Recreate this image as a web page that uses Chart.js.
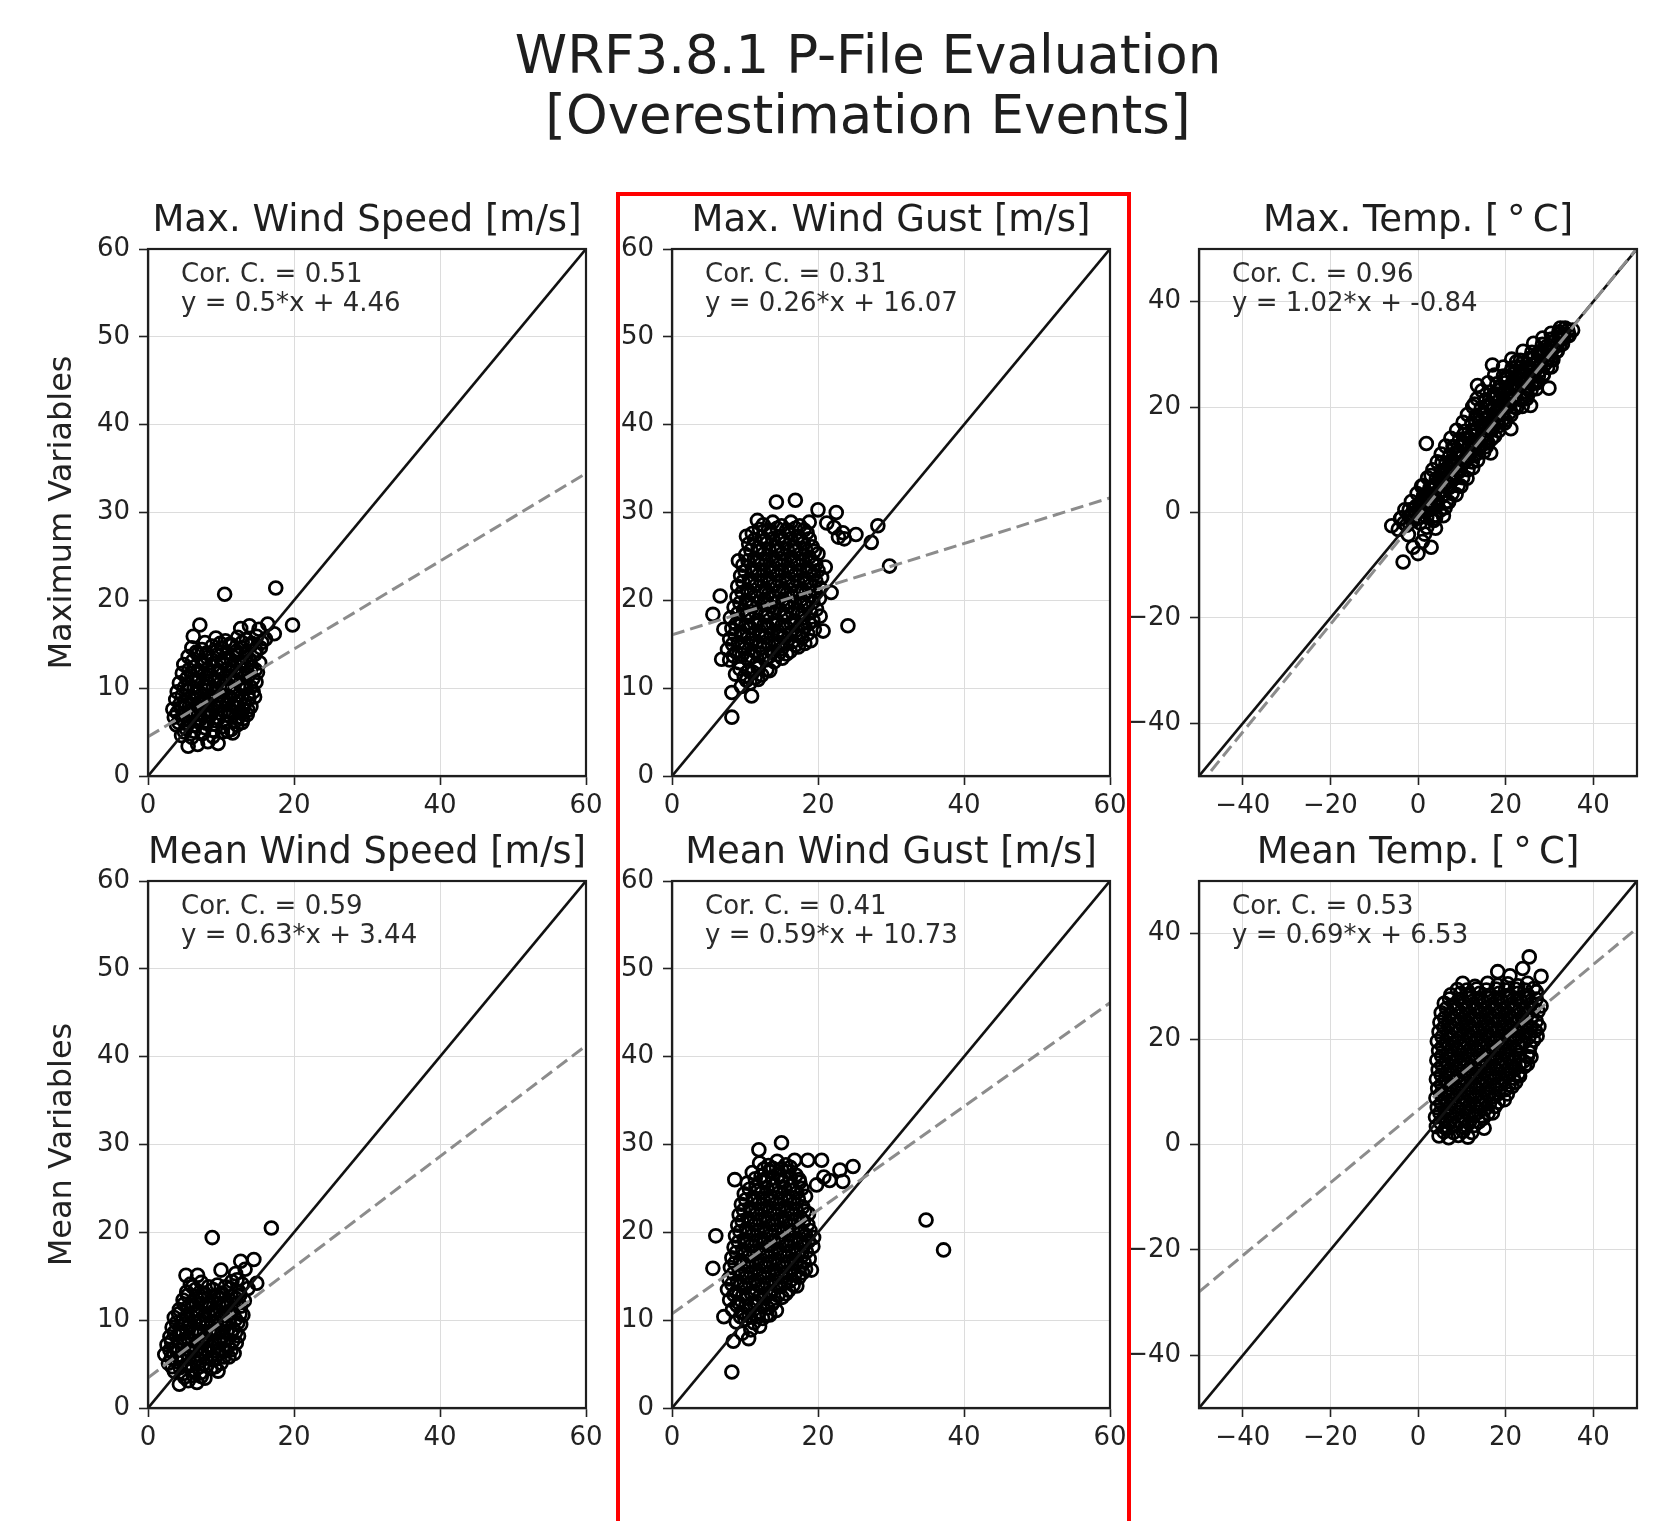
<!DOCTYPE html>
<html>
<head>
<meta charset="utf-8">
<title>WRF3.8.1 P-File Evaluation</title>
<script src="https://cdn.jsdelivr.net/npm/chart.js@4.4.1/dist/chart.umd.min.js"></script>
<style>
  body { margin: 0; background: #fff; width: 1671px; height: 1521px; position: relative; overflow: hidden; font-family: "DejaVu Sans", sans-serif; }
  #mainTitle { position: absolute; left: 268px; top: 25px; width: 1200px; text-align: center; font-size: 53px; line-height: 60px; color: #1e1e1e; }
  canvas { position: absolute; }
  #highlight { position: absolute; left: 616px; top: 192px; width: 507px; height: 1400px; border: 4px solid #ff0000; border-bottom: none; pointer-events: none; }
</style>
</head>
<body>
<div id="mainTitle">WRF3.8.1 P-File Evaluation<br>[Overestimation Events]</div>
<canvas id="c0" width="698" height="637"></canvas>
<canvas id="c1" width="698" height="637"></canvas>
<canvas id="c2" width="698" height="637"></canvas>
<canvas id="c3" width="698" height="637"></canvas>
<canvas id="c4" width="698" height="637"></canvas>
<canvas id="c5" width="698" height="637"></canvas>
<div id="highlight"></div>
<script>
// Titles and labels
const panelTitles = ["Max. Wind Speed [m/s]", "Max. Wind Gust [m/s]", "Max. Temp. [\u2009\u00b0\u2009C]",
                     "Mean Wind Speed [m/s]", "Mean Wind Gust [m/s]", "Mean Temp. [\u2009\u00b0\u2009C]"];
const rowTitles = ["Maximum Variables", "Mean Variables"];
const corrLabels = ["Cor. C. = 0.51", "Cor. C. = 0.31", "Cor. C. = 0.96", "Cor. C. = 0.59", "Cor. C. = 0.41", "Cor. C. = 0.53"];
const fitLabels = ["y = 0.5*x + 4.46", "y = 0.26*x + 16.07", "y = 1.02*x + -0.84",
                   "y = 0.63*x + 3.44", "y = 0.59*x + 10.73", "y = 0.69*x + 6.53"];

// Tick labels
const windTicksX = [0, 20, 40, 60];
const windTicksY = [0, 10, 20, 30, 40, 50, 60];
const tempTicks = [-40, -20, 0, 20, 40];

// 1:1 lines
const windIdentity = [[0, 0], [60, 60]];
const tempIdentity = [[-50, -50], [50, 50]];

// Regression lines (end points)
const maxWindSpeedFit = [[0, 4.46], [60, 34.46]];
const maxWindGustFit = [[0, 16.07], [60, 31.67]];
const maxTempFit = [[-50, -51.84], [50, 50.16]];
const meanWindSpeedFit = [[0, 3.44], [60, 41.24]];
const meanWindGustFit = [[0, 10.73], [60, 46.13]];
const meanTempFit = [[-50, -27.97], [50, 41.03]];

// Observed vs modelled points
const maxWindSpeedPts = [
  [5.5,3.4],[6.8,3.6],[8.2,3.9],[9.6,3.7],
  [4.6,4.6],[6.0,4.4],[7.4,4.8],[8.9,4.5],[10.9,5.1],[11.6,4.9],
  [3.9,5.8],[5.2,5.4],[6.5,5.7],[7.8,5.5],[9.1,5.9],[10.3,5.6],[12.2,5.8],[12.9,6.1],
  [3.6,6.7],[4.8,6.4],[6.1,6.8],[7.2,6.5],[8.5,6.9],[9.7,6.6],[11.0,6.9],[12.4,6.7],[13.6,7.0],
  [3.4,7.6],[4.5,7.8],[5.7,7.4],[6.9,7.9],[8.1,7.5],[9.3,7.8],[10.5,7.4],[11.8,7.9],[13.0,7.6],[14.1,7.9],
  [3.8,8.7],[5.1,8.4],[6.3,8.8],[7.6,8.5],[8.8,8.9],[10.1,8.6],[11.3,8.9],[12.6,8.5],[13.8,8.8],[14.6,9.0],
  [4.0,9.6],[5.4,9.8],[6.7,9.4],[8.0,9.7],[9.2,9.4],[10.5,9.8],[11.8,9.5],[13.1,9.9],[14.4,9.6],
  [4.3,10.6],[5.6,10.4],[6.9,10.8],[8.3,10.5],[9.6,10.9],[10.8,10.5],[12.1,10.8],[13.4,10.4],[14.8,10.7],
  [4.7,11.7],[6.0,11.4],[7.3,11.8],[8.6,11.5],[9.9,11.8],[11.2,11.4],[12.5,11.7],[13.8,11.5],[15.0,11.8],
  [4.9,12.7],[6.3,12.4],[7.6,12.8],[8.9,12.5],[10.3,12.9],[11.6,12.5],[12.9,12.8],[14.2,12.4],[15.3,12.9],
  [5.5,13.6],[6.8,13.9],[8.1,13.5],[9.5,13.8],[10.8,13.4],[12.1,13.8],[13.4,13.5],[14.7,13.9],
  [6.0,14.6],[7.4,14.4],[8.8,14.8],[10.2,14.5],[11.5,14.9],[12.8,14.6],[14.1,14.9],[15.4,14.6],
  [6.2,15.9],[9.3,15.7],[10.6,15.4],[12.3,15.8],[13.5,15.5],[14.9,15.9],[16.1,15.6],[17.3,16.2],
  [7.1,17.2],[12.7,16.8],[13.9,17.1],[15.2,16.7],[16.4,17.3],
  [10.5,20.7],[17.5,21.4],[19.8,17.2],
  [5.0,5.0],[6.3,5.1],[7.6,4.9],[8.9,5.2],[10.2,5.0],[11.4,5.3],
  [4.2,6.1],[5.5,6.0],[6.8,6.2],[8.0,6.0],[9.3,6.3],[10.6,6.1],[11.9,6.2],[13.0,6.5],
  [4.0,7.2],[5.2,7.0],[6.4,7.3],[7.6,7.1],[8.8,7.3],[10.0,7.1],[11.3,7.3],[12.6,7.2],[13.7,7.5],
  [4.4,8.2],[5.7,8.0],[6.9,8.3],[8.2,8.1],[9.4,8.3],[10.7,8.1],[12.0,8.3],[13.2,8.1],
  [4.7,9.2],[6.0,9.0],[7.3,9.2],[8.6,9.1],[9.9,9.2],[11.1,9.0],[12.4,9.2],[13.7,9.3],
  [5.0,10.1],[6.3,10.0],[7.6,10.2],[8.9,10.0],[10.2,10.2],[11.5,10.0],[12.8,10.2],[14.1,10.1],
  [5.3,11.1],[6.6,11.0],[7.9,11.2],[9.2,11.0],[10.5,11.2],[11.8,11.0],[13.1,11.2],[14.4,11.1],
  [5.6,12.1],[6.9,12.0],[8.2,12.2],[9.6,12.0],[10.9,12.2],[12.2,12.0],[13.5,12.2],[14.7,12.1],
  [6.1,13.1],[7.4,13.0],[8.8,13.2],[10.1,13.0],[11.4,13.2],[12.7,13.0],[14.0,13.2],
  [6.6,14.1],[8.0,14.0],[9.4,14.2],[10.8,14.0],[12.1,14.2],[13.4,14.0],[14.8,14.3],
  [7.8,15.2],[9.9,15.1],[11.2,15.0],[12.9,15.2],[14.2,15.1],[15.6,15.2]
];
const maxWindGustPts = [
  [9.5,10.2],[10.7,10.6],[11.8,11.0],
  [8.7,11.6],[9.9,11.3],[11.1,11.8],[12.3,11.5],[13.4,12.0],
  [7.9,13.2],[9.2,12.9],[10.4,13.3],[11.6,12.8],[12.8,13.2],[14.0,13.0],[15.1,13.4],
  [7.6,14.4],[8.8,14.1],[10.0,14.5],[11.3,14.2],[12.5,14.6],[13.7,14.1],[15.0,14.5],[16.2,14.2],[17.3,14.7],
  [7.9,15.6],[9.1,15.2],[10.4,15.7],[11.6,15.3],[12.8,15.8],[14.1,15.4],[15.3,15.8],[16.5,15.3],[17.8,15.7],[19.0,15.4],
  [8.2,16.8],[9.5,16.4],[10.7,16.9],[12.0,16.5],[13.2,16.9],[14.5,16.5],[15.7,16.9],[17.0,16.6],[18.2,17.0],[19.5,16.7],
  [8.0,18.0],[9.3,17.6],[10.5,18.1],[11.8,17.7],[13.0,18.1],[14.3,17.7],[15.5,18.1],[16.8,17.6],[18.0,18.0],[19.3,17.7],[20.3,18.2],
  [8.5,19.2],[9.8,18.9],[11.0,19.3],[12.3,18.9],[13.5,19.3],[14.8,18.9],[16.0,19.3],[17.3,18.9],[18.5,19.3],[19.8,19.0],
  [8.9,20.4],[10.2,20.0],[11.4,20.5],[12.7,20.1],[13.9,20.5],[15.2,20.1],[16.4,20.5],[17.7,20.1],[18.9,20.5],[20.2,20.2],
  [9.0,21.6],[10.3,21.2],[11.5,21.7],[12.8,21.3],[14.0,21.7],[15.3,21.3],[16.5,21.7],[17.8,21.3],[19.0,21.7],[20.3,21.4],
  [9.4,22.8],[10.6,22.4],[11.9,22.9],[13.1,22.5],[14.4,22.9],[15.6,22.5],[16.9,22.9],[18.1,22.5],[19.4,22.9],[20.5,22.6],
  [9.7,24.0],[11.0,23.6],[12.2,24.1],[13.5,23.7],[14.7,24.1],[16.0,23.7],[17.2,24.1],[18.5,23.7],[19.7,24.1],[21.0,23.8],
  [10.1,25.2],[11.3,24.8],[12.6,25.3],[13.8,24.9],[15.1,25.3],[16.3,24.9],[17.6,25.3],[18.8,24.9],[20.0,25.3],
  [10.5,26.4],[11.8,26.0],[13.0,26.5],[14.3,26.1],[15.5,26.5],[16.8,26.1],[18.0,26.5],[19.2,26.1],
  [11.0,27.6],[12.3,27.2],[13.5,27.7],[14.8,27.3],[16.0,27.7],[17.3,27.3],[18.5,27.7],[22.8,27.2],[23.6,27.0],
  [12.5,28.6],[13.8,28.9],[15.0,28.5],[16.3,28.9],[17.5,28.5],[18.8,28.9],[21.2,28.8],[22.2,28.3],
  [14.3,31.2],[16.9,31.4],[20.0,30.3],[22.5,30.0],[25.2,27.5],[28.2,28.5],[27.3,26.6],[29.8,23.9],
  [24.1,17.1],[11.7,29.1],[10.2,27.3],[9.1,24.5],[6.6,20.5],[5.6,18.4],[7.1,16.7],[6.8,13.3],
  [8.2,9.5],[8.2,6.7],[10.9,9.1],[20.7,16.5],[21.8,20.9],[23.4,27.7],
  [10.2,10.9],[11.4,11.2],
  [9.3,12.2],[10.5,12.0],[11.8,12.3],[13.0,12.1],
  [8.4,13.7],[9.6,13.8],[10.9,13.6],[12.1,13.9],[13.3,13.6],[14.5,13.8],[15.7,13.9],
  [8.3,15.0],[9.6,14.8],[10.8,15.1],[12.0,14.9],[13.2,15.1],[14.5,14.9],[15.7,15.1],[16.9,14.9],[18.2,15.1],
  [8.6,16.1],[9.8,16.0],[11.1,16.2],[12.3,16.0],[13.6,16.2],[14.8,16.0],[16.1,16.2],[17.3,16.0],[18.6,16.2],
  [8.8,17.3],[10.1,17.2],[11.3,17.4],[12.6,17.2],[13.8,17.4],[15.1,17.2],[16.3,17.4],[17.6,17.2],[18.8,17.4],
  [9.0,18.5],[10.3,18.4],[11.5,18.6],[12.8,18.4],[14.0,18.6],[15.3,18.4],[16.5,18.6],[17.8,18.4],[19.0,18.6],
  [9.3,19.7],[10.6,19.6],[11.8,19.8],[13.1,19.6],[14.3,19.8],[15.6,19.6],[16.8,19.8],[18.1,19.6],[19.3,19.8],
  [9.6,20.9],[10.8,20.8],[12.1,21.0],[13.3,20.8],[14.6,21.0],[15.8,20.8],[17.1,21.0],[18.3,20.8],[19.6,21.0],
  [9.7,22.1],[10.9,22.0],[12.2,22.2],[13.4,22.0],[14.7,22.2],[15.9,22.0],[17.2,22.2],[18.4,22.0],[19.7,22.2],
  [10.0,23.3],[11.3,23.2],[12.5,23.4],[13.8,23.2],[15.0,23.4],[16.3,23.2],[17.5,23.4],[18.8,23.2],[20.0,23.4],
  [10.4,24.5],[11.7,24.4],[12.9,24.6],[14.2,24.4],[15.4,24.6],[16.7,24.4],[17.9,24.6],[19.2,24.4],
  [10.8,25.7],[12.0,25.6],[13.3,25.8],[14.5,25.6],[15.8,25.8],[17.0,25.6],[18.3,25.8],[19.5,25.6],
  [11.3,26.9],[12.6,26.8],[13.8,27.0],[15.1,26.8],[16.3,27.0],[17.6,26.8],[18.8,27.0],
  [12.0,28.1],[13.2,28.0],[14.4,28.2],[15.7,28.0],[16.9,28.2],[18.1,28.0]
];
const maxTempPts = [
  [-4.5,-3.2],[-3.8,-1.0],[-2.6,-2.4],[-2.0,0.5],[-1.2,-1.6],[-0.4,1.2],[0.3,-0.8],[1.0,2.4],[1.6,0.2],
  [2.3,3.5],[2.9,1.3],[3.6,-1.5],[3.8,4.6],[4.4,2.1],[5.0,5.9],[5.6,3.2],[6.2,0.9],[6.5,7.6],[7.1,4.8],
  [7.6,9.3],[8.2,6.4],[8.7,3.4],[9.0,11.0],[9.5,8.0],[10.1,12.6],[10.6,9.6],[11.2,6.5],[11.5,14.0],
  [12.0,11.2],[12.6,15.6],[13.1,12.8],[13.6,9.9],[14.0,17.2],[14.5,14.3],[15.0,18.9],[15.5,16.0],
  [16.0,13.2],[16.3,20.5],[16.9,17.6],[17.4,22.3],[17.9,19.2],[18.4,16.4],[18.8,23.8],[19.3,20.9],
  [19.9,25.5],[20.4,22.5],[20.9,19.0],[21.3,26.8],[21.8,24.0],[22.4,27.5],[22.9,25.4],[23.4,21.8],
  [23.9,28.4],[24.4,26.0],[25.0,23.6],[25.6,29.1],[26.2,26.8],[26.8,24.8],[27.4,30.2],[28.0,28.0],
  [28.6,26.1],[29.2,31.4],[29.8,29.3],[30.4,27.6],[31.0,32.5],[31.6,30.6],[32.2,33.8],[33.0,32.0],
  [33.6,35.0],[34.5,33.6],[35.3,34.6],
  [0.8,5.0],[3.0,7.0],[5.5,9.5],[8.0,12.5],[10.5,14.8],[13.0,17.5],[15.5,20.0],[18.0,22.5],[20.5,25.5],
  [22.5,28.6],[4.0,-0.5],[7.0,2.0],[9.8,5.0],[12.5,8.5],[15.0,11.5],[17.5,14.5],[20.0,17.5],[22.0,20.0],
  [25.0,22.2],[27.0,23.5],
  [1.9,13.1],[-3.4,-9.4],[0.0,-7.8],[-6.0,-2.5],[17.0,28.0],[29.9,23.6],[12.9,20.6],[13.6,24.1],
  [21.2,15.9],[25.7,20.3],[32.5,35.0],[16.6,11.3],[-1.1,-6.6],[1.5,-4.1],[3.0,-6.6],
  [-3.2,-2.0],[-1.8,-0.6],[-0.6,0.0],[0.5,1.0],[1.3,3.2],[2.0,1.8],[2.7,4.6],[3.3,2.8],[4.0,5.4],
  [4.7,3.8],[5.3,7.0],[5.9,5.0],[6.6,8.4],[7.3,6.1],[7.9,9.9],[8.5,7.5],[9.2,11.6],[9.8,9.0],
  [10.4,13.2],[11.0,10.4],[11.8,12.6],[12.3,14.6],[12.9,10.8],[13.5,15.8],[14.1,13.0],[14.8,16.6],
  [15.4,14.6],[16.0,18.2],[16.7,15.8],[17.3,19.8],[17.9,17.2],[18.5,21.2],[19.1,18.6],[19.7,22.8],
  [20.3,20.4],[20.9,24.0],[21.5,21.6],[22.1,25.6],[22.7,23.2],[23.3,26.8],[23.9,24.4],[24.6,27.4],
  [25.2,25.4],[25.9,28.0],[26.5,26.0],[27.2,28.8],[27.8,26.9],[28.4,30.3],[29.0,28.2],[29.6,30.6],
  [30.3,29.0],[31.0,31.2],[31.8,32.0],[32.6,33.0],[33.4,33.8],[34.2,34.6],
  [0.5,-2.0],[1.0,-5.5],[2.0,-2.8],[-2.2,-4.2],[4.0,-3.0],
  [-4.0,-1.2],[-2.0,-0.8],[0.0,-1.1],[2.0,-0.9],[4.0,-1.1],[5.8,-0.6],
  [-1.5,2.1],[0.5,1.8],[2.5,2.2],[4.5,1.9],[6.5,2.1],
  [1.2,5.1],[3.2,4.9],[5.2,5.2],[7.2,4.8],[9.2,5.1],
  [3.4,8.1],[5.4,7.9],[7.4,8.2],[9.4,7.8],[11.4,8.1],
  [5.3,11.1],[7.3,10.9],[9.3,11.2],[11.3,10.8],[13.3,11.1],
  [7.5,14.1],[9.5,13.9],[11.5,14.2],[13.5,13.8],[15.5,14.1],[16.8,14.0],
  [10.3,17.1],[12.3,16.9],[14.3,17.2],[16.3,16.8],[18.3,17.1],[19.8,17.0],
  [12.5,20.1],[14.5,19.9],[16.5,20.2],[18.5,19.8],[20.5,20.1],[22.5,19.9],[23.8,20.1],
  [14.6,23.1],[16.6,22.9],[18.6,23.2],[20.6,22.8],[22.6,23.1],[24.6,22.9],[25.8,23.2],
  [17.5,26.1],[19.5,25.9],[21.5,26.2],[23.5,25.8],[25.5,26.1],[27.5,25.9],[28.6,26.2],
  [21.4,29.1],[23.4,28.9],[25.4,29.2],[27.4,28.8],[29.4,29.1],[30.8,29.0],
  [26.4,32.1],[28.4,31.9],[30.4,32.2],[32.4,31.8],
  [30.4,34.0],[32.2,34.3],[34.4,33.8],
  [-3.0,0.5],[-1.0,0.6],[1.0,0.4],[3.0,0.6],[5.0,0.4],
  [-0.2,3.6],[1.8,3.4],[3.8,3.6],[5.8,3.4],[7.8,3.6],
  [2.2,6.6],[4.2,6.4],[6.2,6.6],[8.2,6.4],[10.2,6.6],
  [4.4,9.6],[6.4,9.4],[8.4,9.6],[10.4,9.4],[12.4,9.6],
  [6.3,12.6],[8.3,12.4],[10.3,12.6],[12.3,12.4],[14.3,12.6],[15.6,12.5],
  [8.8,15.6],[10.8,15.4],[12.8,15.6],[14.8,15.4],[16.8,15.6],[18.4,15.5],
  [11.3,18.6],[13.3,18.4],[15.3,18.6],[17.3,18.4],[19.3,18.6],[21.2,18.5],
  [13.5,21.6],[15.5,21.4],[17.5,21.6],[19.5,21.4],[21.5,21.6],[23.5,21.4],[24.8,21.6],
  [16.0,24.6],[18.0,24.4],[20.0,24.6],[22.0,24.4],[24.0,24.6],[26.0,24.4],[27.2,24.6],
  [19.5,27.6],[21.5,27.4],[23.5,27.6],[25.5,27.4],[27.5,27.6],[29.6,27.5],
  [24.0,30.6],[26.0,30.4],[28.0,30.6],[30.0,30.4],[31.8,30.6],
  [28.5,33.1],[30.5,32.9],[33.2,33.0]
];
const meanWindSpeedPts = [
  [4.3,2.7],[5.5,3.1],[6.7,2.9],[7.8,3.4],
  [3.6,4.2],[4.8,3.9],[6.0,4.3],[7.2,4.0],[8.6,4.5],[9.6,4.2],
  [2.8,5.1],[4.0,5.3],[5.2,4.9],[6.4,5.4],[7.6,5.0],[8.8,5.5],[10.0,5.1],[11.1,5.8],
  [2.3,6.1],[3.5,6.3],[4.7,5.9],[5.9,6.4],[7.1,6.0],[8.3,6.5],[9.5,6.1],[10.7,6.5],[11.8,6.2],
  [2.6,7.2],[3.8,6.9],[5.0,7.3],[6.2,6.9],[7.4,7.4],[8.6,7.0],[9.8,7.4],[11.0,7.0],[12.1,7.4],
  [3.0,8.1],[4.2,8.4],[5.4,8.0],[6.6,8.4],[7.8,8.0],[9.0,8.5],[10.2,8.1],[11.4,8.5],[12.4,8.2],
  [3.3,9.2],[4.5,8.9],[5.7,9.3],[6.9,8.9],[8.1,9.4],[9.3,9.0],[10.5,9.4],[11.7,9.0],[12.7,9.5],
  [3.6,10.3],[4.8,10.0],[6.0,10.4],[7.2,10.0],[8.4,10.5],[9.6,10.1],[10.8,10.5],[12.0,10.1],[13.0,10.6],
  [4.3,11.2],[5.5,11.5],[6.7,11.1],[7.9,11.5],[9.1,11.1],[10.3,11.6],[11.5,11.2],[12.7,11.6],
  [4.8,12.3],[6.0,12.0],[7.2,12.4],[8.4,12.0],[9.6,12.5],[10.8,12.1],[12.0,12.5],[13.2,12.2],
  [5.3,13.2],[6.5,13.5],[7.7,13.1],[8.9,13.5],[10.1,13.1],[11.3,13.6],[12.5,13.2],[13.7,13.6],
  [5.8,14.1],[7.3,14.3],[9.5,14.0],[11.5,14.4],[12.9,14.1],[14.9,14.2],
  [5.2,15.1],[6.8,15.1],[10.0,15.7],[12.0,15.3],[13.3,15.8],
  [12.7,16.7],[14.5,16.9],
  [8.8,19.4],[16.9,20.5],
  [5.0,3.5],[6.2,3.7],[7.3,3.6],
  [3.3,4.7],[4.4,4.6],[5.6,4.8],[6.8,4.6],[8.0,4.8],[9.2,4.7],
  [3.2,5.7],[4.4,5.6],[5.6,5.8],[6.8,5.6],[8.0,5.8],[9.2,5.6],[10.4,5.8],
  [3.0,6.6],[4.2,6.6],[5.4,6.7],[6.6,6.5],[7.8,6.7],[9.0,6.5],[10.2,6.7],[11.4,6.6],
  [3.2,7.6],[4.4,7.5],[5.6,7.7],[6.8,7.5],[8.0,7.7],[9.2,7.5],[10.4,7.7],[11.6,7.6],
  [3.6,8.6],[4.8,8.5],[6.0,8.7],[7.2,8.5],[8.4,8.7],[9.6,8.5],[10.8,8.7],[12.0,8.6],
  [3.9,9.7],[5.1,9.6],[6.3,9.8],[7.5,9.6],[8.7,9.8],[9.9,9.6],[11.1,9.8],[12.3,9.7],
  [4.2,10.7],[5.4,10.6],[6.6,10.8],[7.8,10.6],[9.0,10.8],[10.2,10.6],[11.4,10.8],[12.6,10.7],
  [4.9,11.8],[6.1,11.7],[7.3,11.9],[8.5,11.7],[9.7,11.9],[10.9,11.7],[12.1,11.9],
  [5.4,12.8],[6.6,12.7],[7.8,12.9],[9.0,12.7],[10.2,12.9],[11.4,12.7],[12.6,12.9],
  [6.1,13.8],[8.3,13.8],[10.6,13.8],[12.2,14.6]
];
const meanWindGustPts = [
  [9.6,8.5],[10.8,8.9],[12.0,9.3],
  [8.8,9.8],[10.0,10.1],[11.2,9.7],[12.4,10.2],[13.4,10.6],
  [8.3,11.2],[9.5,10.9],[10.7,11.3],[11.9,10.9],[13.1,11.4],[14.3,11.1],
  [7.9,12.3],[9.1,12.0],[10.3,12.5],[11.5,12.1],[12.7,12.5],[13.9,12.1],[15.1,12.6],
  [7.6,13.5],[8.8,13.2],[10.0,13.7],[11.2,13.3],[12.4,13.7],[13.6,13.3],[14.8,13.8],[16.0,13.4],[17.1,13.9],
  [7.8,14.7],[9.0,14.4],[10.2,14.9],[11.4,14.5],[12.6,14.9],[13.8,14.5],[15.0,14.9],[16.2,14.5],[17.4,14.9],[18.3,15.8],
  [8.0,16.0],[9.2,15.6],[10.4,16.1],[11.6,15.7],[12.8,16.1],[14.0,15.7],[15.2,16.1],[16.4,15.7],[17.6,16.1],
  [8.2,17.1],[9.4,16.8],[10.6,17.3],[11.8,16.9],[13.0,17.3],[14.2,16.9],[15.4,17.3],[16.6,16.9],[17.8,17.3],[18.8,17.0],
  [8.5,18.3],[9.7,18.0],[10.9,18.5],[12.1,18.1],[13.3,18.5],[14.5,18.1],[15.7,18.5],[16.9,18.1],[18.1,18.5],
  [8.7,19.6],[9.9,19.2],[11.1,19.7],[12.3,19.3],[13.5,19.7],[14.7,19.3],[15.9,19.7],[17.1,19.3],[18.3,19.7],[19.4,19.4],
  [9.0,20.8],[10.2,20.4],[11.4,20.9],[12.6,20.5],[13.8,20.9],[15.0,20.5],[16.2,20.9],[17.4,20.5],[18.6,20.9],
  [9.2,22.0],[10.4,21.6],[11.6,22.1],[12.8,21.7],[14.0,22.1],[15.2,21.7],[16.4,22.1],[17.6,21.7],[18.7,22.1],
  [9.5,23.2],[10.7,22.8],[11.9,23.3],[13.1,22.9],[14.3,23.3],[15.5,22.9],[16.7,23.3],[17.9,22.9],
  [9.9,24.4],[11.1,24.0],[12.3,24.5],[13.5,24.1],[14.7,24.5],[15.9,24.1],[17.1,24.5],[18.3,24.1],
  [10.3,25.6],[11.5,25.2],[12.7,25.7],[13.9,25.3],[15.1,25.7],[16.3,25.3],[17.5,25.7],[19.8,25.4],
  [11.0,26.8],[12.2,26.4],[13.4,26.9],[14.6,26.5],[15.8,26.9],[17.0,26.5],[20.8,26.3],[21.6,25.9],
  [12.0,27.9],[13.2,27.6],[14.4,28.1],[15.6,27.7],[16.8,28.2],
  [34.8,21.4],[37.2,18.0],[8.2,4.1],[6.0,19.6],[5.6,15.9],[8.6,26.0],[11.9,29.4],[15.0,30.2],
  [24.8,27.5],[23.0,27.1],[23.4,25.8],[20.5,28.2],[18.6,28.2],[7.1,10.4],[8.4,7.6],[10.5,7.9],
  [19.1,15.7],[19.3,18.4],
  [9.4,10.4],[10.6,10.5],[11.8,10.4],[13.0,10.6],
  [8.9,11.7],[10.1,11.6],[11.3,11.8],[12.5,11.6],[13.7,11.8],
  [8.5,12.9],[9.7,12.8],[10.9,13.0],[12.1,12.8],[13.3,13.0],[14.5,12.8],[15.6,13.0],
  [8.2,14.1],[9.4,14.0],[10.6,14.2],[11.8,14.0],[13.0,14.2],[14.2,14.0],[15.4,14.2],[16.6,14.0],
  [8.4,15.3],[9.6,15.2],[10.8,15.4],[12.0,15.2],[13.2,15.4],[14.4,15.2],[15.6,15.4],[16.8,15.2],[17.9,15.4],
  [8.6,16.5],[9.8,16.4],[11.0,16.6],[12.2,16.4],[13.4,16.6],[14.6,16.4],[15.8,16.6],[17.0,16.4],[18.1,16.6],
  [8.8,17.7],[10.0,17.6],[11.2,17.8],[12.4,17.6],[13.6,17.8],[14.8,17.6],[16.0,17.8],[17.2,17.6],[18.4,17.8],
  [9.1,18.9],[10.3,18.8],[11.5,19.0],[12.7,18.8],[13.9,19.0],[15.1,18.8],[16.3,19.0],[17.5,18.8],[18.7,19.0],
  [9.3,20.1],[10.5,20.0],[11.7,20.2],[12.9,20.0],[14.1,20.2],[15.3,20.0],[16.5,20.2],[17.7,20.0],[18.9,20.2],
  [9.6,21.3],[10.8,21.2],[12.0,21.4],[13.2,21.2],[14.4,21.4],[15.6,21.2],[16.8,21.4],[18.0,21.2],
  [9.8,22.5],[11.0,22.4],[12.2,22.6],[13.4,22.4],[14.6,22.6],[15.8,22.4],[17.0,22.6],[18.2,22.4],
  [10.1,23.7],[11.3,23.6],[12.5,23.8],[13.7,23.6],[14.9,23.8],[16.1,23.6],[17.3,23.8],
  [10.6,24.9],[11.8,24.8],[13.0,25.0],[14.2,24.8],[15.4,25.0],[16.6,24.8],[17.8,25.0],
  [11.4,26.1],[12.6,26.0],[13.8,26.2],[15.0,26.0],[16.2,26.2],[17.4,26.0],
  [12.6,27.2],[13.8,27.3],[15.0,27.2],[16.2,27.4]
];
const meanTempPts = [
  [4.8,1.6],[7.0,1.3],[9.2,1.7],[11.4,1.4],
  [4.2,3.4],[6.3,3.1],[8.5,3.5],[10.7,3.2],[12.9,3.6],[15.1,3.1],
  [4.0,5.2],[6.1,4.9],[8.3,5.3],[10.5,5.0],[12.7,5.4],[14.9,5.0],[17.0,6.0],
  [4.4,7.0],[6.6,6.7],[8.8,7.1],[11.0,6.8],[13.2,7.2],[15.4,6.8],[17.6,7.2],
  [4.1,8.8],[6.3,8.5],[8.5,8.9],[10.7,8.6],[12.9,9.0],[15.1,8.6],[17.3,9.0],[19.7,8.5],
  [4.5,10.6],[6.7,10.3],[8.9,10.7],[11.1,10.4],[13.3,10.8],[15.5,10.4],[17.7,10.8],[19.9,10.4],[21.5,11.0],
  [4.2,12.4],[6.4,12.1],[8.6,12.5],[10.8,12.2],[13.0,12.6],[15.2,12.2],[17.4,12.6],[19.6,12.2],[21.8,12.6],[23.2,13.0],
  [4.6,14.2],[6.8,13.9],[9.0,14.3],[11.2,14.0],[13.4,14.4],[15.6,14.0],[17.8,14.4],[20.0,14.0],[22.2,14.4],[24.3,14.8],
  [4.3,16.0],[6.5,15.7],[8.7,16.1],[10.9,15.8],[13.1,16.2],[15.3,15.8],[17.5,16.2],[19.7,15.8],[21.9,16.2],[24.1,15.8],[25.8,16.6],
  [4.7,17.8],[6.9,17.5],[9.1,17.9],[11.3,17.6],[13.5,18.0],[15.7,17.6],[17.9,18.0],[20.1,17.6],[22.3,18.0],[25.4,17.5],
  [4.4,19.6],[6.6,19.3],[8.8,19.7],[11.0,19.4],[13.2,19.8],[15.4,19.4],[17.6,19.8],[19.8,19.4],[22.0,19.8],[24.2,19.4],[26.4,19.8],
  [4.8,21.4],[7.0,21.1],[9.2,21.5],[11.4,21.2],[13.6,21.6],[15.8,21.2],[18.0,21.6],[20.2,21.2],[22.4,21.6],[24.6,21.2],[26.8,21.6],
  [5.0,23.2],[7.2,22.9],[9.4,23.3],[11.6,23.0],[13.8,23.4],[16.0,23.0],[18.2,23.4],[20.4,23.0],[22.6,23.4],[24.8,23.0],[27.0,23.4],
  [5.3,25.0],[7.5,24.7],[9.7,25.1],[11.9,24.8],[14.1,25.2],[16.3,24.8],[18.5,25.2],[20.7,24.8],[22.9,25.2],[25.1,24.8],[27.4,25.3],
  [6.0,26.8],[8.2,26.5],[10.4,26.9],[12.6,26.6],[14.8,27.0],[17.0,26.6],[19.2,27.0],[21.4,26.6],[23.6,27.0],[25.8,26.6],[28.1,26.3],
  [7.5,28.4],[9.7,28.7],[11.9,28.3],[14.1,28.7],[16.3,28.3],[18.5,28.7],[20.7,28.3],[22.9,28.7],[25.1,28.3],[27.0,29.0],
  [10.2,30.6],[13.0,30.0],[15.9,30.6],[18.2,30.2],[20.5,30.5],[22.8,30.1],[25.0,30.6],[28.1,31.9],
  [18.2,32.8],[23.9,33.4],[25.4,35.6],[21.0,32.0],
  [5.9,2.4],[8.1,2.3],[10.3,2.5],[12.3,2.3],
  [5.1,4.2],[7.3,4.1],[9.5,4.3],[11.7,4.1],[13.9,4.3],
  [5.0,6.0],[7.2,5.9],[9.4,6.1],[11.6,5.9],[13.8,6.1],[16.0,5.9],
  [5.3,7.8],[7.5,7.7],[9.7,7.9],[11.9,7.7],[14.1,7.9],[16.3,7.7],[18.3,8.0],
  [5.2,9.6],[7.4,9.5],[9.6,9.7],[11.8,9.5],[14.0,9.7],[16.2,9.5],[18.4,9.7],[20.4,9.6],
  [5.4,11.4],[7.6,11.3],[9.8,11.5],[12.0,11.3],[14.2,11.5],[16.4,11.3],[18.6,11.5],[20.8,11.3],[22.3,11.8],
  [5.3,13.2],[7.5,13.1],[9.7,13.3],[11.9,13.1],[14.1,13.3],[16.3,13.1],[18.5,13.3],[20.7,13.1],[22.9,13.4],
  [5.5,15.0],[7.7,14.9],[9.9,15.1],[12.1,14.9],[14.3,15.1],[16.5,14.9],[18.7,15.1],[20.9,14.9],[23.1,15.1],[25.0,15.3],
  [5.4,16.8],[7.6,16.7],[9.8,16.9],[12.0,16.7],[14.2,16.9],[16.4,16.7],[18.6,16.9],[20.8,16.7],[23.0,16.9],[25.0,16.7],
  [5.6,18.6],[7.8,18.5],[10.0,18.7],[12.2,18.5],[14.4,18.7],[16.6,18.5],[18.8,18.7],[21.0,18.5],[23.2,18.7],[25.6,18.6],
  [5.5,20.4],[7.7,20.3],[9.9,20.5],[12.1,20.3],[14.3,20.5],[16.5,20.3],[18.7,20.5],[20.9,20.3],[23.1,20.5],[25.3,20.3],[27.2,20.6],
  [5.9,22.2],[8.1,22.1],[10.3,22.3],[12.5,22.1],[14.7,22.3],[16.9,22.1],[19.1,22.3],[21.3,22.1],[23.5,22.3],[25.7,22.1],[27.6,22.4],
  [6.1,24.0],[8.3,23.9],[10.5,24.1],[12.7,23.9],[14.9,24.1],[17.1,23.9],[19.3,24.1],[21.5,23.9],[23.7,24.1],[25.9,23.9],
  [6.5,25.8],[8.7,25.7],[10.9,25.9],[13.1,25.7],[15.3,25.9],[17.5,25.7],[19.7,25.9],[21.9,25.7],[24.1,25.9],[26.4,25.8],
  [7.2,27.6],[9.4,27.5],[11.6,27.7],[13.8,27.5],[16.0,27.7],[18.2,27.5],[20.4,27.7],[22.6,27.5],[24.8,27.7],[27.0,27.6],
  [9.0,29.4],[11.2,29.3],[13.4,29.5],[15.6,29.3],[17.8,29.5],[20.0,29.3],[22.2,29.5],[24.4,29.3],[26.4,29.6]
];

// Layout of the 2x3 grid (page pixels)
const plotLefts = [148, 672, 1199];
const plotTops = [249, 881];
const axisSide = 130;   // room left of each plot (and mirrored on the right)
const titleBlock = 50;  // subplot title height above the plot

const panels = [
  { pts: maxWindSpeedPts, fit: maxWindSpeedFit, temp: false },
  { pts: maxWindGustPts, fit: maxWindGustFit, temp: false },
  { pts: maxTempPts, fit: maxTempFit, temp: true },
  { pts: meanWindSpeedPts, fit: meanWindSpeedFit, temp: false },
  { pts: meanWindGustPts, fit: meanWindGustFit, temp: false },
  { pts: meanTempPts, fit: meanTempFit, temp: true }
];

const toXY = arr => arr.map(p => ({ x: p[0], y: p[1] }));
const fmtTick = v => (v < 0 ? "\u2212" + Math.abs(v) : String(v));

// frame + corner text
const framePlugin = {
  id: "frame",
  afterDatasetsDraw(chart, args, opts) {
    const { ctx, chartArea: a } = chart;
    ctx.save();
    ctx.strokeStyle = "#1e1e1e";
    ctx.lineWidth = 2.2;
    ctx.strokeRect(a.left, a.top, a.right - a.left, a.bottom - a.top);
    ctx.font = '26px "DejaVu Sans"';
    ctx.fillStyle = "#2b2b2b";
    ctx.textBaseline = "middle";
    opts.lines.forEach((t, i) => ctx.fillText(t, a.left + 33, a.top + 26 + i * 29));
    ctx.restore();
  }
};

function axisOpts(ticks, min, max, extra) {
  return Object.assign({
    type: "linear",
    min: min,
    max: max,
    afterBuildTicks: s => { s.ticks = ticks.map(v => ({ value: v })); },
    ticks: { autoSkip: false, color: "#222", font: { size: 26, family: "DejaVu Sans" }, callback: fmtTick },
    grid: { color: "#dcdcdc", lineWidth: 1, tickColor: "#222", tickLength: 9, tickWidth: 1.6 },
    border: { color: "#1e1e1e", width: 2.2 }
  }, extra);
}

panels.forEach((p, i) => {
  const col = i % 3;
  const row = Math.floor(i / 3);
  const canvas = document.getElementById("c" + i);
  canvas.style.left = (plotLefts[col] - axisSide) + "px";
  canvas.style.top = (plotTops[row] - titleBlock) + "px";

  const lo = p.temp ? -50 : 0;
  const hi = p.temp ? 50 : 60;
  const xt = p.temp ? tempTicks : windTicksX;
  const yt = p.temp ? tempTicks : windTicksY;

  const xAxis = axisOpts(xt, lo, hi, { afterFit: s => { s.height = 60; } });
  xAxis.ticks.padding = 6;
  const yAxis = axisOpts(yt, lo, hi, { afterFit: s => { s.width = axisSide; } });
  yAxis.ticks.padding = 9;
  if (col === 0) {
    yAxis.title = {
      display: true,
      text: rowTitles[row],
      color: "#222",
      font: { size: 32, family: "DejaVu Sans" },
      padding: { top: 25, bottom: 0 }
    };
  }

  new Chart(canvas.getContext("2d"), {
    type: "scatter",
    data: {
      datasets: [
        {
          data: toXY(p.fit),
          showLine: true,
          borderColor: "#8c8c8c",
          borderWidth: 3,
          borderDash: [13, 6],
          pointRadius: 0,
          order: 0
        },
        {
          data: toXY(p.temp ? tempIdentity : windIdentity),
          showLine: true,
          borderColor: "#111",
          borderWidth: 2.7,
          pointRadius: 0,
          order: 1
        },
        {
          data: toXY(p.pts),
          pointStyle: "circle",
          pointRadius: 6.4,
          borderWidth: 2.8,
          borderColor: "#000",
          backgroundColor: "rgba(0,0,0,0)",
          order: 2
        }
      ]
    },
    options: {
      responsive: false,
      animation: false,
      devicePixelRatio: 1,
      layout: { padding: { left: 0, right: axisSide, top: 0, bottom: 0 } },
      scales: { x: xAxis, y: yAxis },
      plugins: {
        legend: { display: false },
        tooltip: { enabled: false },
        title: {
          display: true,
          text: panelTitles[i],
          fullSize: false,
          color: "#1e1e1e",
          font: { size: 37, family: "DejaVu Sans", weight: "normal", lineHeight: "44px" },
          padding: { top: 0, bottom: 6 }
        },
        frame: { lines: [corrLabels[i], fitLabels[i]] }
      }
    },
    plugins: [framePlugin]
  });
});
</script>
</body>
</html>
